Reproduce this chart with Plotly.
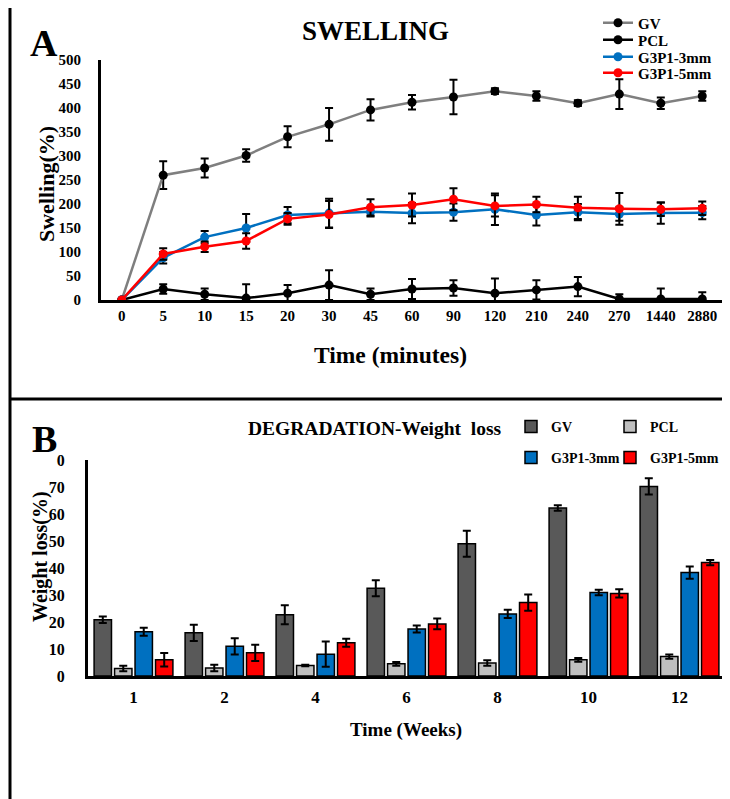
import plotly.graph_objects as go

# ---------- Panel A data (Swelling %) ----------
time_min = ["0", "5", "10", "15", "20", "30", "45", "60", "90", "120", "210", "240", "270", "1440", "2880"]
gv_swell = [0, 260, 275, 301, 340, 366, 396, 412, 423, 435, 425, 410, 429, 410, 425]
gv_swell_err = [0, 29, 20, 13, 22, 34, 22, 15, 36, 6, 10, 6, 31, 12, 10]
pcl_swell = [0, 23, 12, 4, 14, 31, 12, 23, 25, 14, 21, 28, 2, 2, 2]
pcl_swell_err = [0, 10, 12, 29, 17, 31, 12, 21, 16, 31, 20, 20, 10, 22, 14]
g3mm_swell = [0, 88, 131, 150, 177, 181, 184, 181, 183, 189, 177, 183, 179, 181, 182]
g3mm_swell_err = [0, 12, 13, 29, 17, 30, 10, 21, 18, 33, 22, 17, 14, 22, 14]
g5mm_swell = [0, 96, 111, 123, 169, 178, 193, 198, 210, 196, 199, 192, 190, 189, 191]
g5mm_swell_err = [0, 12, 11, 16, 12, 28, 17, 24, 23, 22, 16, 23, 33, 14, 14]
a_ytickvals = [0, 50, 100, 150, 200, 250, 300, 350, 400, 450, 500]

# ---------- Panel B data (Weight loss %) ----------
weeks = ["1", "2", "4", "6", "8", "10", "12"]
gv_loss = [20.8, 16.0, 22.7, 32.5, 49.0, 62.2, 70.2]
gv_loss_err = [1.2, 3.0, 3.5, 3.0, 4.8, 1.0, 3.0]
pcl_loss = [2.8, 3.0, 3.9, 4.5, 4.8, 6.0, 7.2]
pcl_loss_err = [1.0, 1.2, 0.3, 0.7, 1.0, 0.7, 0.8]
g3mm_loss = [16.4, 11.0, 8.1, 17.4, 23.0, 30.9, 38.3]
g3mm_loss_err = [1.5, 3.0, 4.7, 1.3, 1.5, 1.0, 2.3]
g5mm_loss = [6.0, 8.6, 12.3, 19.3, 27.2, 30.6, 42.0]
g5mm_loss_err = [2.5, 3.0, 1.5, 2.0, 3.0, 1.5, 1.0]
b_ytickvals = [0, 10, 20, 30, 40, 50, 60, 70, 80]
b_yticktext = ["0", "10", "20", "30", "40", "50", "60", "70", "0"]

FONT = "Liberation Serif"
OFF = 8                      # page body margin of the browser
W, H = 730 - OFF, 799 - OFF  # figure size so that it fills the window


def px(x):
    """window pixel x -> paper fraction"""
    return (x - OFF) / W


def py(y):
    """window pixel y -> paper fraction"""
    return 1 - (y - OFF) / H


def bold(size):
    return dict(family=FONT, size=size, color="black", weight="bold")


def err(vals):
    return dict(type="data", array=vals, visible=True, color="black", thickness=2, width=4)


fig = go.Figure()

line_series = [
    ("GV", gv_swell, gv_swell_err, "#7f7f7f", "black", "legend"),
    ("PCL", pcl_swell, pcl_swell_err, "black", "black", "legend2"),
    ("G3P1-3mm", g3mm_swell, g3mm_swell_err, "#0070c0", "#0070c0", "legend3"),
    ("G3P1-5mm", g5mm_swell, g5mm_swell_err, "#ff0000", "#ff0000", "legend4"),
]
for name, vals, e, lc, mc, lg in line_series:
    fig.add_trace(go.Scatter(
        x=time_min, y=vals, name=name, mode="lines+markers",
        line=dict(color=lc, width=2.5), marker=dict(color=mc, size=9),
        error_y=err(e), xaxis="x", yaxis="y", legend=lg,
    ))

bar_series = [
    ("GV", gv_loss, gv_loss_err, "#595959", "legend5"),
    ("PCL", pcl_loss, pcl_loss_err, "#bfbfbf", "legend6"),
    ("G3P1-3mm", g3mm_loss, g3mm_loss_err, "#0070c0", "legend7"),
    ("G3P1-5mm", g5mm_loss, g5mm_loss_err, "#ff0000", "legend8"),
]
for name, vals, e, c, lg in bar_series:
    fig.add_trace(go.Bar(
        x=weeks, y=vals, name=name,
        marker=dict(color=c, line=dict(color="black", width=1.5)),
        error_y=err(e), xaxis="x2", yaxis="y2", legend=lg,
    ))

common_axis = dict(showline=True, linecolor="black", linewidth=3, showgrid=False,
                   zeroline=False, ticks="", ticklen=0, automargin=False)


def legend_at(x, ycenter, size):
    return dict(xref="container", yref="container", x=px(x), y=py(ycenter),
                xanchor="left", yanchor="middle", bgcolor="rgba(0,0,0,0)",
                font=bold(size), itemwidth=30)


def text(t, x, y, size, angle=0):
    return dict(text=t, x=px(x), y=py(y), xref="paper", yref="paper", showarrow=False,
                xanchor="center", yanchor="middle", textangle=angle, font=bold(size))


fig.update_layout(
    template="none",
    width=W, height=H,
    margin=dict(l=0, r=0, t=0, b=0, autoexpand=False),
    paper_bgcolor="white", plot_bgcolor="white",
    font=dict(family=FONT, color="black"),
    showlegend=True,
    barmode="group", bargap=0.1, bargroupgap=0.15,
    xaxis=dict(
        domain=[px(101), px(723)], anchor="y", type="category", range=[-0.5, 14.5],
        **common_axis, tickfont=bold(15), ticklabelstandoff=0,
    ),
    yaxis=dict(
        domain=[py(300), py(60)], anchor="x", range=[0, 500], tickvals=a_ytickvals,
        **common_axis, tickfont=bold(15), ticklabelstandoff=14,
    ),
    xaxis2=dict(
        domain=[px(88), px(725)], anchor="y2", type="category", range=[-0.5, 6.5],
        **common_axis, tickfont=bold(17), ticklabelstandoff=4,
    ),
    yaxis2=dict(
        domain=[py(676), py(460)], anchor="x2", range=[0, 80],
        tickvals=b_ytickvals, ticktext=b_yticktext,
        **common_axis, tickfont=bold(16), ticklabelstandoff=17,
    ),
    legend=legend_at(598, 23, 15),
    legend2=legend_at(598, 40, 15),
    legend3=legend_at(598, 57, 15),
    legend4=legend_at(598, 73, 15),
    legend5=legend_at(511, 427, 14),
    legend6=legend_at(610, 427, 14),
    legend7=legend_at(511, 458, 14),
    legend8=legend_at(610, 458, 14),
    annotations=[
        text("A", 44, 43, 38),
        text("SWELLING", 375, 31, 27),
        text("Swelling(%)", 46, 184, 22, -90),
        text("Time (minutes)", 390, 355, 23.5),
        text("B", 44, 439, 38),
        text("DEGRADATION-Weight  loss", 375, 428, 19.5),
        text("Weight loss(%)", 40, 557, 20, -90),
        text("Time (Weeks)", 406, 730, 19),
    ],
    shapes=[
        dict(type="line", xref="paper", yref="paper", x0=px(10), x1=px(10), y0=py(5), y1=0,
             line=dict(color="black", width=3)),
        dict(type="line", xref="paper", yref="paper", x0=px(10), x1=1, y0=py(5), y1=py(5),
             line=dict(color="black", width=3)),
        dict(type="line", xref="paper", yref="paper", x0=px(10), x1=1, y0=py(399), y1=py(399),
             line=dict(color="black", width=3)),
    ],
)

fig.write_html("out.html")
